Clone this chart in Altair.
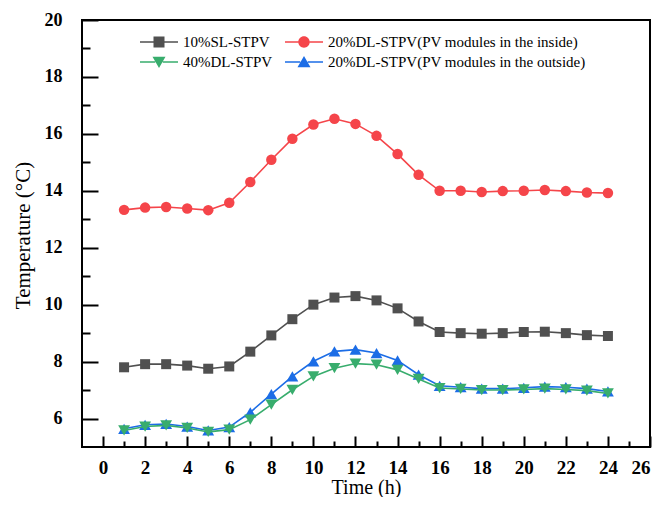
import altair as alt
import pandas as pd

hours = list(range(1, 25))
sl10 = [7.80, 7.91, 7.91, 7.86, 7.75, 7.83, 8.35, 8.92, 9.49, 10.00, 10.25, 10.30,
        10.15, 9.87, 9.41, 9.04, 9.00, 8.98, 9.00, 9.04, 9.05, 9.00, 8.93, 8.90]
dl20_in = [13.33, 13.41, 13.43, 13.38, 13.32, 13.58, 14.31, 15.09, 15.83, 16.33, 16.53, 16.35,
           15.93, 15.29, 14.56, 14.00, 14.00, 13.96, 13.99, 14.00, 14.03, 13.99, 13.94, 13.92]
dl40 = [5.58, 5.72, 5.76, 5.67, 5.53, 5.61, 5.96, 6.49, 7.01, 7.48, 7.77, 7.93,
        7.89, 7.71, 7.39, 7.07, 7.04, 7.00, 7.00, 7.02, 7.05, 7.02, 6.98, 6.88]
dl20_out = [5.64, 5.78, 5.81, 5.72, 5.58, 5.70, 6.22, 6.86, 7.48, 8.01, 8.36, 8.42,
            8.30, 8.04, 7.54, 7.15, 7.10, 7.05, 7.05, 7.08, 7.12, 7.10, 7.05, 6.95]

names = ["10%SL-STPV", "20%DL-STPV(PV modules in the inside)",
         "40%DL-STPV", "20%DL-STPV(PV modules in the outside)"]
colors = ["#505050", "#f5454a", "#38ad6d", "#1c6de6"]
shapes = ["square", "circle", "triangle-down", "triangle-up"]

x_major = list(range(0, 27, 2))
x_minor = list(range(1, 26, 2))
y_major = list(range(6, 21, 2))
y_minor = list(range(7, 20, 2))

FONT = "Liberation Serif"

series_values = {names[0]: sl10, names[1]: dl20_in, names[2]: dl40, names[3]: dl20_out}
# drawing order: black, red, blue, green
draw_order = [0, 1, 3, 2]

xs = alt.Scale(domain=[-1, 26], nice=False, zero=False)
ys = alt.Scale(domain=[5, 20], nice=False, zero=False)

def label_axis_x():
    return alt.Axis(orient="bottom", values=x_major, ticks=False, tickSize=0, domain=False, grid=False,
                    labelFont=FONT, labelFontSize=19, labelFontWeight="bold", labelColor="black",
                    labelPadding=11, labelFlush=True, labelOverlap=False,
                    title="Time (h)", titleFont=FONT, titleFontSize=20, titleFontWeight="normal",
                    titleColor="black", titleY=46, titleBaseline="alphabetic")

def label_axis_y():
    return alt.Axis(orient="left", values=y_major, ticks=False, tickSize=0, domain=False, grid=False,
                    labelFont=FONT, labelFontSize=18, labelFontWeight="bold", labelColor="black",
                    labelPadding=20, labelFlush=False, labelOverlap=False,
                    title="Temperature (°C)", titleFont=FONT, titleFontSize=21, titleFontWeight="normal",
                    titleColor="black", titleX=-59, titleY=215, titleAngle=-90,
                    titleAlign="center", titleBaseline="middle")

def tick_axis(orient, vals, size):
    return alt.Axis(orient=orient, values=vals, ticks=True, tickSize=size, offset=-size,
                    tickColor="black", tickWidth=2, labels=False, domain=False, grid=False, title=None)

axes_x = [label_axis_x(), tick_axis("bottom", x_major, 11), tick_axis("bottom", x_minor, 6), None]
axes_y = [label_axis_y(), tick_axis("left", y_major, 16), tick_axis("left", y_minor, 8), None]

layers = []
for k, i in enumerate(draw_order):
    df = pd.DataFrame({"hour": hours, "temp": series_values[names[i]]})
    xenc = alt.X("hour:Q", scale=xs, axis=axes_x[k])
    yenc = alt.Y("temp:Q", scale=ys, axis=axes_y[k])
    line = alt.Chart(df).mark_line(color=colors[i], strokeWidth=1.6).encode(x=xenc, y=yenc)
    size = 100 if shapes[i] == "square" else (110 if shapes[i] == "circle" else 140)
    pts = alt.Chart(df).mark_point(filled=True, opacity=1, color=colors[i], shape=shapes[i],
                                   size=size).encode(
        x=alt.X("hour:Q", scale=xs, axis=None), y=alt.Y("temp:Q", scale=ys, axis=None))
    layers.append(line)
    layers.append(pts)

# legend symbols: line segment + marker, in units of r = sqrt(symbolSize)/2 = 10px
legend_paths = [
    "M-1.9,-0.085H-0.55V0.085H-1.9Z M0.55,-0.085H1.9V0.085H0.55Z M-0.55,-0.55H0.55V0.55H-0.55Z",
    "M-1.9,-0.085H-0.57V0.085H-1.9Z M0.57,-0.085H1.9V0.085H0.57Z "
    "M-0.57,0A0.57,0.57,0,1,1,0.57,0A0.57,0.57,0,1,1,-0.57,0Z",
    "M-1.9,-0.085H-0.38V0.085H-1.9Z M0.38,-0.085H1.9V0.085H0.38Z M-0.65,-0.53H0.65L0,0.61Z",
    "M-1.9,-0.085H-0.38V0.085H-1.9Z M0.38,-0.085H1.9V0.085H0.38Z M0,-0.61L0.65,0.53H-0.65Z",
]

leg = alt.Legend(title=None, orient="none", legendX=67, legendY=12, columns=2, direction="horizontal",
                 symbolSize=400, symbolStrokeWidth=0, labelFont=FONT, labelFontSize=15,
                 labelColor="black", labelOffset=14, columnPadding=12, rowPadding=2, padding=0,
                 labelLimit=400)

legend_layer = alt.Chart(pd.DataFrame({"series": names})).mark_point(filled=True, opacity=1).encode(
    color=alt.Color("series:N", scale=alt.Scale(domain=names, range=colors), legend=leg),
    shape=alt.Shape("series:N", scale=alt.Scale(domain=names, range=legend_paths), legend=leg),
).transform_filter("false")

chart = alt.layer(*layers, legend_layer).resolve_axis(x="independent", y="independent").properties(
    width=568, height=427, autosize=alt.AutoSizeParams(type="none"),
    padding={"left": 74, "top": 12, "right": 4, "bottom": 50}, background="white"
).configure_view(stroke="black", strokeWidth=2)

chart.save("out.html", embed_options={"renderer": "svg", "actions": False})
